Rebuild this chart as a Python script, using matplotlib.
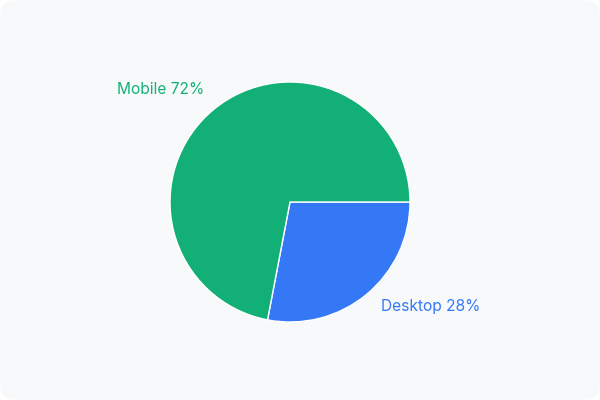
import matplotlib
matplotlib.use("Agg")
import matplotlib.pyplot as plt
from matplotlib.patches import FancyBboxPatch
import numpy as np

categories = ["Desktop", "Mobile"]
values = [28, 72]
colors = ["#3478f6", "#12b076"]

W, H = 600, 400
fig = plt.figure(figsize=(6, 4), dpi=100)
fig.patch.set_facecolor("white")
card = FancyBboxPatch((0.5, 0.5), W - 1, H - 1, boxstyle="round,pad=0,rounding_size=14",
                      transform=None, facecolor="#f8f9fb", edgecolor="none", zorder=-5)
fig.patches.append(card)

ax = fig.add_axes([0, 0, 1, 1], zorder=1)
ax.patch.set_alpha(0)

cx, cy, r = 290, H - 202, 120
labels = [f"{c} {v}%" for c, v in zip(categories, values)]
wedges, texts = ax.pie(values, labels=labels, colors=colors, startangle=0,
                       counterclock=False, center=(cx, cy), radius=r,
                       labeldistance=1.18, frame=True,
                       wedgeprops=dict(edgecolor="white", linewidth=1),
                       textprops=dict(fontfamily="Inter", fontsize=11.2))
ax.set_xlim(0, W)
ax.set_ylim(0, H)
ax.set_aspect("equal")
ax.axis("off")
label_dist = [1.13, 1.22]
label_shift = [5, 8]
for w, t, col, d, s in zip(wedges, texts, colors, label_dist, label_shift):
    t.set_color(col)
    ang = np.deg2rad((w.theta1 + w.theta2) / 2)
    side = 1 if np.cos(ang) >= 0 else -1
    t.set_ha("left" if side > 0 else "right")
    t.set_va("center")
    t.set_position((cx + r * d * np.cos(ang) + s, cy + r * d * np.sin(ang)))

fig.savefig("out.png", dpi=100, facecolor="white")
